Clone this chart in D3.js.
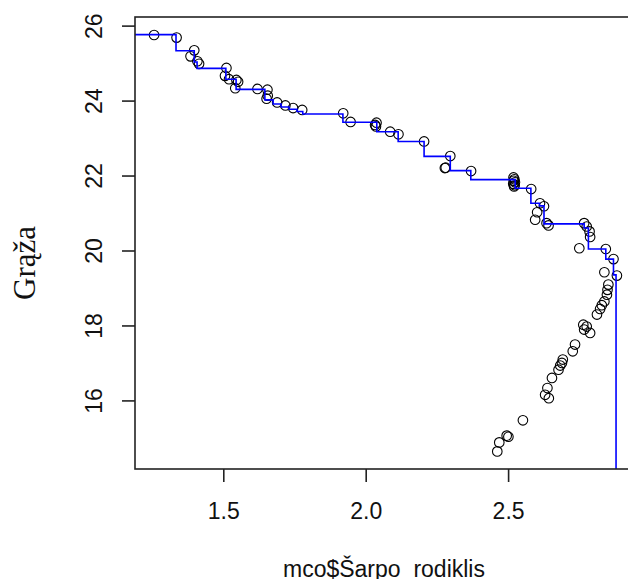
<!DOCTYPE html>
<html>
<head>
<meta charset="utf-8">
<script src="https://cdn.jsdelivr.net/npm/d3@7"></script>
<style>
  html, body { margin: 0; padding: 0; background: #fff; }
  svg { display: block; }
</style>
</head>
<body>
<div id="chart"></div>
<script>
// ── Data ──
// scatter: Sharpe ratio (x) vs return (y)
const sharpe = [
    1.257, 1.336, 1.398, 1.385, 1.409, 1.415, 1.511, 1.506, 1.520, 1.546,
    1.552, 1.542, 1.620, 1.655, 1.656, 1.652, 1.689, 1.718, 1.745, 1.777,
    1.921, 1.947, 2.038, 2.036, 2.033, 2.086, 2.115, 2.205, 2.297, 2.278,
    2.281, 2.370, 2.519, 2.522, 2.520, 2.524, 2.518, 2.523, 2.521, 2.581,
    2.612, 2.626, 2.602, 2.595, 2.635, 2.642, 2.767, 2.776, 2.786, 2.788,
    2.750, 2.843, 2.870, 2.838, 2.882, 2.852, 2.849, 2.847, 2.838, 2.829,
    2.823, 2.812, 2.776, 2.767, 2.788, 2.764, 2.735, 2.727, 2.692, 2.689,
    2.683, 2.677, 2.654, 2.638, 2.630, 2.643, 2.552, 2.495, 2.501, 2.469,
    2.462
];
const returns = [
    25.75, 25.68, 25.34, 25.18, 25.05, 24.98, 24.87, 24.66, 24.57, 24.55,
    24.50, 24.33, 24.31, 24.29, 24.13, 24.05, 23.95, 23.87, 23.80, 23.75,
    23.66, 23.43, 23.41, 23.31, 23.35, 23.17, 23.10, 22.91, 22.52, 22.20,
    22.21, 22.12, 21.95, 21.90, 21.86, 21.82, 21.78, 21.74, 21.71, 21.64,
    21.26, 21.18, 21.02, 20.82, 20.73, 20.67, 20.73, 20.64, 20.51, 20.36,
    20.06, 20.04, 19.77, 19.42, 19.33, 19.09, 18.95, 18.82, 18.64, 18.54,
    18.44, 18.29, 17.97, 17.89, 17.80, 18.02, 17.49, 17.31, 17.09, 17.00,
    16.93, 16.82, 16.60, 16.33, 16.15, 16.06, 15.47, 15.06, 15.03, 14.88,
    14.64
];

// frontier (step line, level starts at each x)
const frontierX = [
    1.190, 1.334, 1.398, 1.408, 1.509, 1.545, 1.646, 1.675, 1.703, 1.731,
    1.759, 1.779, 1.920, 2.039, 2.114, 2.205, 2.297, 2.369, 2.525, 2.580,
    2.610, 2.626, 2.767, 2.782, 2.843, 2.870, 2.879
];
const frontierY = [
    25.76, 25.33, 25.03, 24.86, 24.57, 24.30, 24.02, 23.91, 23.83, 23.77,
    23.71, 23.64, 23.42, 23.17, 22.91, 22.51, 22.13, 21.89, 21.66, 21.26,
    21.19, 20.71, 20.60, 20.04, 19.77, 19.35, 14.00
];

const xTicks = [1.5, 2.0, 2.5];
const yTicks = [16, 18, 20, 22, 24, 26];
const xDomain = [1.19, 2.928];
const yDomain = [14.17, 26.23];

const X_LABEL = 'mco$Šarpo_rodiklis';
const Y_LABEL = 'Grąža';

// ── Layout ──
const width = 628, height = 579;
const plot = { left: 135, top: 17, right: 630, bottom: 469 };
const SANS = "'Liberation Sans', Arial, sans-serif";
const SERIF = "'Liberation Serif', 'Times New Roman', serif";

const x = d3.scaleLinear().domain(xDomain).range([plot.left, plot.right]);
const y = d3.scaleLinear().domain(yDomain).range([plot.bottom, plot.top]);

const svg = d3.select('#chart')
    .append('svg')
    .attr('width', width)
    .attr('height', height);

svg.append('defs').append('clipPath')
    .attr('id', 'plot-clip')
    .append('rect')
    .attr('x', plot.left).attr('y', plot.top)
    .attr('width', plot.right - plot.left)
    .attr('height', plot.bottom - plot.top);

// ── Points ──
const pts = sharpe.map((s, i) => ({ x: s, y: returns[i] }));
svg.append('g')
    .selectAll('circle')
    .data(pts)
    .join('circle')
    .attr('cx', d => x(d.x))
    .attr('cy', d => y(d.y))
    .attr('r', 4.8)
    .attr('fill', 'none')
    .attr('stroke', '#000')
    .attr('stroke-width', 1.1);

// ── Frontier step line ──
const frontier = frontierX.map((fx, i) => ({ x: fx, y: frontierY[i] }));
const line = d3.line()
    .x(d => x(d.x))
    .y(d => y(d.y))
    .curve(d3.curveStepAfter);

svg.append('path')
    .datum(frontier)
    .attr('clip-path', 'url(#plot-clip)')
    .attr('d', line)
    .attr('fill', 'none')
    .attr('stroke', '#0000ff')
    .attr('stroke-width', 1.6);

// ── Box ──
svg.append('rect')
    .attr('x', plot.left).attr('y', plot.top)
    .attr('width', plot.right - plot.left + 20)
    .attr('height', plot.bottom - plot.top)
    .attr('fill', 'none')
    .attr('stroke', '#222')
    .attr('stroke-width', 1.6);

// ── Axes ──
const xAxis = svg.append('g')
    .attr('transform', `translate(0,${plot.bottom})`)
    .call(d3.axisBottom(x).tickValues(xTicks).tickSize(13).tickPadding(21)
        .tickFormat(d3.format('.1f')));
xAxis.select('.domain').remove();
xAxis.selectAll('line').attr('stroke', '#222').attr('stroke-width', 1.6);
xAxis.selectAll('text')
    .attr('font-family', SANS)
    .attr('font-size', '23px')
    .attr('fill', '#111');

const yAxis = svg.append('g')
    .attr('transform', `translate(${plot.left},0)`)
    .call(d3.axisLeft(y).tickValues(yTicks).tickSize(13).tickFormat(d3.format('d')));
yAxis.select('.domain').remove();
yAxis.selectAll('line').attr('stroke', '#222').attr('stroke-width', 1.6);
yAxis.selectAll('text')
    .attr('x', null).attr('dy', null)
    .attr('transform', 'translate(-33,0) rotate(-90)')
    .attr('text-anchor', 'middle')
    .attr('font-family', SANS)
    .attr('font-size', '23px')
    .attr('fill', '#111');

// ── Axis titles ──
svg.append('text')
    .attr('x', 384)
    .attr('y', 577)
    .attr('text-anchor', 'middle')
    .attr('font-family', SANS)
    .attr('font-size', '23px')
    .attr('fill', '#111')
    .text(X_LABEL);

svg.append('text')
    .attr('transform', 'translate(35,263) rotate(-90)')
    .attr('text-anchor', 'middle')
    .attr('font-family', SERIF)
    .attr('font-size', '31px')
    .attr('fill', '#111')
    .text(Y_LABEL);
</script>
</body>
</html>
